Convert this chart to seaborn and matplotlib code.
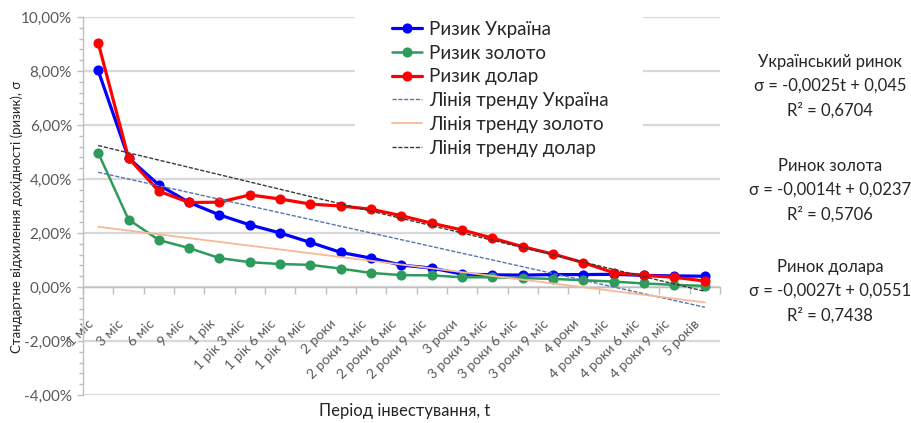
import numpy as np
import pandas as pd
import matplotlib
matplotlib.use("Agg")
import matplotlib.pyplot as plt
import matplotlib.transforms as mtransforms
from matplotlib.patches import Rectangle
from matplotlib.ticker import MultipleLocator
import seaborn as sns

# ---------------- data ----------------
periods = ["1 міс", "3 міс", "6 міс", "9 міс", "1 рік", "1 рік 3 міс", "1 рік 6 міс",
           "1 рік 9 міс", "2 роки", "2 роки 3 міс", "2 роки 6 міс", "2 роки 9 міс",
           "3 роки", "3 роки 3 міс", "3 роки 6 міс", "3 роки 9 міс", "4 роки",
           "4 роки 3 міс", "4 роки 6 міс", "4 роки 9 міс", "5 років"]

# risk values, %
risk_ukraine = [8.02, 4.78, 3.78, 3.13, 2.67, 2.30, 2.00, 1.65, 1.28, 1.07, 0.81,
                0.70, 0.48, 0.45, 0.44, 0.46, 0.46, 0.47, 0.43, 0.41, 0.40]
risk_gold = [4.97, 2.50, 1.74, 1.44, 1.07, 0.92, 0.85, 0.82, 0.68, 0.52, 0.44,
             0.43, 0.36, 0.36, 0.33, 0.30, 0.25, 0.20, 0.13, 0.08, 0.04]
risk_dollar = [9.05, 4.78, 3.55, 3.13, 3.14, 3.41, 3.26, 3.07, 3.00, 2.88, 2.64,
               2.36, 2.11, 1.81, 1.49, 1.22, 0.90, 0.53, 0.43, 0.36, 0.22]

series_names = ["Ризик Україна", "Ризик золото", "Ризик долар"]
trend_names = ["Лінія тренду Україна", "Лінія тренду золото", "Лінія тренду долар"]
trend_slopes = [-0.0025, -0.0014, -0.0027]
trend_intercepts = [0.045, 0.0237, 0.0551]
trend_r2 = ["0,6704", "0,5706", "0,7438"]
trend_eq_text = ["σ = -0,0025t + 0,045", "σ = -0,0014t + 0,0237", "σ = -0,0027t + 0,0551"]
market_titles = ["Український ринок", "Ринок золота", "Ринок долара"]

y_ticks = [-4, -2, 0, 2, 4, 6, 8, 10]
y_tick_labels = ["-4,00%", "-2,00%", "0,00%", "2,00%", "4,00%", "6,00%", "8,00%", "10,00%"]

x_label = "Період інвестування, t"
y_label = "Стандартне відхилення дохідності (ризик), σ"

# ---------------- style ----------------
series_colors = ["#0000FF", "#2E9B5C", "#FF0000"]
series_lw = [2.3, 1.8, 2.3]
trend_colors = ["#5677AE", "#F6B995", "#3A3A3A"]
trend_lw = [1.0, 1.3, 1.0]
trend_ls = [(0, (3, 1.2)), "-", (0, (3, 1.2))]
text_color = "#262626"
tick_color = "#595959"
axis_color = "#BFBFBF"
grid_color = "#D9D9D9"

sns.set_theme(style="white")
plt.rcParams["font.family"] = ["Lato", "DejaVu Sans"]

W, H = 912, 423
fig = plt.figure(figsize=(W / 100, H / 100), dpi=100)
ax_left, ax_right, ax_top, ax_bottom = 83, 720, 17, 395
ax = fig.add_axes([ax_left / W, 1 - ax_bottom / H, (ax_right - ax_left) / W, (ax_bottom - ax_top) / H])

t = np.arange(1, len(periods) + 1)
df = pd.DataFrame({
    "t": np.tile(t, 3),
    "risk": risk_ukraine + risk_gold + risk_dollar,
    "series": np.repeat(series_names, len(t)),
})

handles = []
for name, color, lw in zip(series_names, series_colors, series_lw):
    sub = df[df["series"] == name]
    sns.lineplot(data=sub, x="t", y="risk", color=color, lw=lw, marker="o",
                 markersize=7.3, markeredgewidth=0, ax=ax, legend=False, zorder=3)
    line = ax.lines[-1]
    line.set_label(name)
    handles.append(line)

for name, slope, icpt, color, lw, ls in zip(trend_names, trend_slopes, trend_intercepts,
                                             trend_colors, trend_lw, trend_ls):
    trend_df = pd.DataFrame({"t": t, "risk": (slope * t + icpt) * 100})
    sns.lineplot(data=trend_df, x="t", y="risk", color=color, lw=lw, ax=ax,
                 legend=False, zorder=4)
    line = ax.lines[-1]
    line.set_linestyle(ls)
    line.set_label(name)
    handles.append(line)

ax.set_xlim(0.5, len(periods) + 0.5)
ax.set_ylim(min(y_ticks), max(y_ticks))

# grid
ax.set_axisbelow(True)
ax.yaxis.grid(True, color=grid_color, lw=1.6)
ax.xaxis.grid(False)
ax.xaxis.set_zorder(1.5)  # category labels drawn over the horizontal grid

# spines
for s in ["top", "right"]:
    ax.spines[s].set_visible(False)
ax.spines["left"].set_color(axis_color)
ax.spines["left"].set_linewidth(1.0)
ax.spines["bottom"].set_position(("data", 0))
ax.spines["bottom"].set_color(axis_color)
ax.spines["bottom"].set_linewidth(1.0)

# y ticks
ax.set_yticks(y_ticks)
ax.set_yticklabels(y_tick_labels)
ax.yaxis.set_minor_locator(MultipleLocator(0.4))
ax.tick_params(axis="y", which="major", direction="out", length=4, width=1,
               color=axis_color, labelcolor=tick_color, labelsize=11, pad=4, left=True)
ax.tick_params(axis="y", which="minor", direction="out", length=3, width=1,
               color=axis_color, left=True)

# x ticks
ax.set_xticks(t)
ax.set_xticklabels(periods)
ax.xaxis.set_minor_locator(MultipleLocator(1, offset=0.5))
ax.tick_params(axis="x", which="major", length=0, labelcolor=tick_color,
               labelsize=10, pad=22, bottom=True)
ax.tick_params(axis="x", which="minor", direction="out", length=5, width=1,
               color=axis_color, bottom=True)
offset = mtransforms.ScaledTranslation(-11 / 100, 0, fig.dpi_scale_trans)
for lab in ax.get_xticklabels():
    lab.set_rotation(45)
    lab.set_ha("right")
    lab.set_va("top")
    lab.set_rotation_mode("anchor")
    lab.set_transform(lab.get_transform() + offset)

ax.set_xlabel(x_label, fontsize=12, color=text_color, va="top")
ax.xaxis.set_label_coords(0.505, -0.02)
ax.set_ylabel(y_label, fontsize=9.5, color=text_color)
ax.yaxis.set_label_coords(-0.094, 0.472)

# white background behind legend
ax.add_patch(Rectangle((0.427, 0.61), 0.452, 0.42, transform=ax.transAxes,
                       facecolor="white", edgecolor="none", zorder=1, clip_on=False))

leg = ax.legend(handles=handles, labels=[h.get_label() for h in handles],
                loc="upper left", bbox_to_anchor=((392 - ax_left) / (ax_right - ax_left), 0.99),
                frameon=False, fontsize=13.5, handlelength=1.6, handletextpad=0.4,
                labelspacing=0.36, borderaxespad=0, borderpad=0)
for txt in leg.get_texts():
    txt.set_color(text_color)

# right-side annotations
block_y = [62, 166, 267]
for title, eq, r2, y0 in zip(market_titles, trend_eq_text, trend_r2, block_y):
    for k, s in enumerate([title, eq, "R² = " + r2]):
        fig.text(830 / W, 1 - (y0 + 24 * k) / H, s, ha="center", va="center",
                 fontsize=12, color=text_color)

fig.savefig("out.png", dpi=100)
